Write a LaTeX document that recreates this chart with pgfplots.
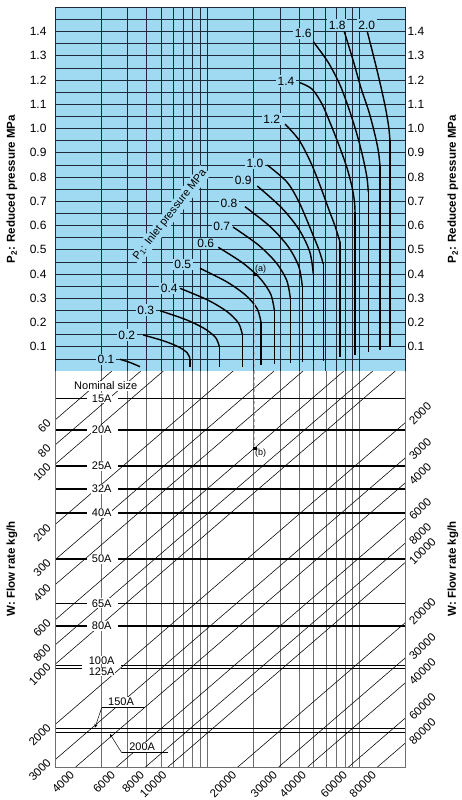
\documentclass[border=0pt]{standalone}
\usepackage{fontspec}
\setmainfont{Liberation Sans}
\usepackage{pgfplots}
\pgfplotsset{compat=1.18}
\definecolor{skyb}{RGB}{160,217,242}
\definecolor{gridc}{RGB}{28,42,58}
\definecolor{lgray}{RGB}{110,110,110}
\newcommand{\fs}{\fontsize{12}{14}\selectfont}
\newcommand{\fm}{\fontsize{11}{13}\selectfont}
\newcommand{\fw}{\fontsize{11.5}{13}\selectfont}
\pgfplotsset{
  curve/.style={black, line width=1.4pt, no markers},
  diag/.style={black, line width=0.55pt, no markers},
  nom/.style={black, line width=1.6pt, no markers},
}
\tikzset{
  lab/.style={font=\fs, fill=skyb, inner sep=1.5pt},
  nlab/.style={font=\fm, fill=white, inner sep=1pt},
  wl/.style={font=\fw, inner sep=0pt},
  wL/.style={wl, xshift=-6pt, yshift=-1pt, rotate=45, anchor=east},
  wR/.style={wl, xshift=6pt, rotate=45, anchor=west},
  wB/.style={wl, xshift=-2.5pt, yshift=-5pt, rotate=45, anchor=east},
}
\begin{document}
\begin{tikzpicture}
\path[use as bounding box] (0,0) rectangle (461pt,800pt);

% ---------------- lower part: flow rate / nominal size ----------------
\begin{axis}[
  at={(230pt,230.65pt)}, anchor=center,
  width=350pt, height=396.7pt, scale only axis,
  xmin=0, xmax=2.298, ymin=0, ymax=1.9835, y dir=reverse,
  xtick={0.30103,0.47712,0.60206,0.69897,0.77815,0.84510,0.90309,0.95424,1,1.30103,1.47712,1.60206,1.69897,1.77815,1.84510,1.90309,1.95424,2},
  xticklabels={}, ytick=\empty,
  xmajorgrids, major grid style={lgray, line width=0.6pt},
  tick style={draw=none},
  axis line style={draw=none},
  clip mode=individual,
]
% flow-rate lines W (kg/h)
\addplot[diag] coordinates {(0.3735,0) (0,0.2452)};      % 60
\addplot[diag] coordinates {(0.5637,0) (0,0.3701)};      % 80
\addplot[diag] coordinates {(0.7113,0) (0,0.467)};       % 100
\addplot[diag] coordinates {(1.1698,0) (0,0.768)};       % 200
\addplot[diag] coordinates {(1.4381,0) (0,0.9441)};      % 300
\addplot[diag] coordinates {(1.6285,0) (0,1.0691)};      % 400
\addplot[diag] coordinates {(1.8967,0) (0,1.2452)};      % 600
\addplot[diag] coordinates {(2.0870,0) (0,1.3701)};      % 800
\addplot[diag] coordinates {(2.2346,0) (0,1.467)};       % 1000
\addplot[diag] coordinates {(2.298,0.2593) (0,1.768)};   % 2000
\addplot[diag] coordinates {(2.298,0.4354) (0,1.9441)};  % 3000
\addplot[diag] coordinates {(2.298,0.5604) (0.1304,1.9835)}; % 4000
\addplot[diag] coordinates {(2.298,0.7365) (0.3986,1.9835)}; % 6000
\addplot[diag] coordinates {(2.298,0.8614) (0.5889,1.9835)}; % 8000
\addplot[diag] coordinates {(2.298,0.9583) (0.7365,1.9835)}; % 10000
\addplot[diag] coordinates {(2.298,1.2593) (1.1950,1.9835)}; % 20000
\addplot[diag] coordinates {(2.298,1.4354) (1.4632,1.9835)}; % 30000
\addplot[diag] coordinates {(2.298,1.5604) (1.6536,1.9835)}; % 40000
\addplot[diag] coordinates {(2.298,1.7365) (1.9219,1.9835)}; % 60000
\addplot[diag] coordinates {(2.298,1.8614) (2.1121,1.9835)}; % 80000
% nominal size lines
\addplot[nom] coordinates {(0,0.1365) (0.2121,0.1365)};
\addplot[nom] coordinates {(0.4156,0.1365) (2.298,0.1365)};
\addplot[nom] coordinates {(0,0.295) (0.2121,0.295)};
\addplot[nom] coordinates {(0.4156,0.295) (2.298,0.295)};
\addplot[nom] coordinates {(0,0.475) (0.2121,0.475)};
\addplot[nom] coordinates {(0.4156,0.475) (2.298,0.475)};
\addplot[nom] coordinates {(0,0.59) (0.2121,0.59)};
\addplot[nom] coordinates {(0.4156,0.59) (2.298,0.59)};
\addplot[nom] coordinates {(0,0.7085) (0.2121,0.7085)};
\addplot[nom] coordinates {(0.4156,0.7085) (2.298,0.7085)};
\addplot[nom] coordinates {(0,0.9385) (0.2121,0.9385)};
\addplot[nom] coordinates {(0.4156,0.9385) (2.298,0.9385)};
\addplot[nom] coordinates {(0,1.1615) (0.2121,1.1615)};
\addplot[nom] coordinates {(0.4156,1.1615) (2.298,1.1615)};
\addplot[nom] coordinates {(0,1.2735) (0.2121,1.2735)};
\addplot[nom] coordinates {(0.4156,1.2735) (2.298,1.2735)};
\addplot[nom, line width=1.3pt] coordinates {(0,1.4735) (0.1753,1.4735)};
\addplot[nom, line width=1.3pt] coordinates {(0.4314,1.4735) (2.298,1.4735)};
\addplot[nom, line width=1.3pt] coordinates {(0,1.4885) (0.1753,1.4885)};
\addplot[nom, line width=1.3pt] coordinates {(0.4314,1.4885) (2.298,1.4885)};
\addplot[nom, line width=1.3pt] coordinates {(0,1.7865) (2.298,1.7865)};
\addplot[nom, line width=1.3pt] coordinates {(0,1.8085) (2.298,1.8085)};
% example path (a)->(b)
\addplot[gray!60, dashed, line width=0.8pt] coordinates {(1.31,0) (1.31,0.385)};
\addplot[only marks, mark=square*, mark size=1.2pt, black] coordinates {(1.31,0.385)};
\node[font=\fontsize{9}{10}\selectfont, anchor=north west, inner sep=0.5pt] at (axis cs:1.31,0.385) {(b)};
% nominal size labels
\node[nlab] at (axis cs:0.3329,0.0735) {Nominal size};
\node[nlab] at (axis cs:0.3066,0.1365) {15A};
\node[nlab] at (axis cs:0.3066,0.295) {20A};
\node[nlab] at (axis cs:0.3066,0.475) {25A};
\node[nlab] at (axis cs:0.3066,0.59) {32A};
\node[nlab] at (axis cs:0.3066,0.7085) {40A};
\node[nlab] at (axis cs:0.3066,0.9385) {50A};
\node[nlab] at (axis cs:0.3066,1.1615) {65A};
\node[nlab] at (axis cs:0.3066,1.2735) {80A};
\node[nlab, inner sep=0.3pt] at (axis cs:0.3066,1.4465) {100A};
\node[nlab, inner sep=0.3pt] at (axis cs:0.3066,1.5035) {125A};
\node[nlab] at (axis cs:0.4334,1.6535) {150A};
\node[nlab] at (axis cs:0.5725,1.8785) {200A};
\addplot[black, line width=0.5pt] coordinates {(0.3066,1.6835) (0.5909,1.6835)};
\addplot[black, line width=0.5pt, -stealth] coordinates {(0.3066,1.6835) (0.2626,1.7825)};
\addplot[black, line width=0.5pt] coordinates {(0.4380,1.9085) (0.7439,1.9085)};
\addplot[black, line width=0.5pt, -stealth] coordinates {(0.4380,1.9085) (0.3611,1.815)};
% frame
\draw[lgray, line width=0.8pt] (axis cs:0,0) -- (axis cs:0,1.9835) -- (axis cs:2.298,1.9835) -- (axis cs:2.298,0);
% W labels, left edge
\node[wL] at (axis cs:0,0.2452) {60};
\node[wL] at (axis cs:0,0.3701) {80};
\node[wL] at (axis cs:0,0.467) {100};
\node[wL] at (axis cs:0,0.768) {200};
\node[wL] at (axis cs:0,0.9441) {300};
\node[wL] at (axis cs:0,1.0691) {400};
\node[wL] at (axis cs:0,1.2452) {600};
\node[wL] at (axis cs:0,1.3701) {800};
\node[wL] at (axis cs:0,1.467) {1000};
\node[wL] at (axis cs:0,1.768) {2000};
\node[wL] at (axis cs:0,1.9441) {3000};
% W labels, right edge
\node[wR] at (axis cs:2.298,0.2593) {2000};
\node[wR] at (axis cs:2.298,0.4354) {3000};
\node[wR] at (axis cs:2.298,0.5604) {4000};
\node[wR] at (axis cs:2.298,0.7365) {6000};
\node[wR] at (axis cs:2.298,0.8614) {8000};
\node[wR] at (axis cs:2.298,0.9583) {10000};
\node[wR] at (axis cs:2.298,1.2593) {20000};
\node[wR] at (axis cs:2.298,1.4354) {30000};
\node[wR] at (axis cs:2.298,1.5604) {40000};
\node[wR] at (axis cs:2.298,1.7365) {60000};
\node[wR] at (axis cs:2.298,1.8614) {80000};
% W labels, bottom edge
\node[wB] at (axis cs:0.1304,1.9835) {4000};
\node[wB] at (axis cs:0.3986,1.9835) {6000};
\node[wB] at (axis cs:0.5889,1.9835) {8000};
\node[wB] at (axis cs:0.7365,1.9835) {10000};
\node[wB] at (axis cs:1.1950,1.9835) {20000};
\node[wB] at (axis cs:1.4632,1.9835) {30000};
\node[wB] at (axis cs:1.6536,1.9835) {40000};
\node[wB] at (axis cs:1.9219,1.9835) {60000};
\node[wB] at (axis cs:2.1121,1.9835) {80000};
\end{axis}

% ---------------- upper part: pressures ----------------
\begin{axis}[
  at={(230pt,610.85pt)}, anchor=center,
  width=350pt, height=363.7pt, scale only axis,
  xmin=0, xmax=2.298, ymin=0, ymax=1.5,
  axis background/.style={fill=skyb},
  xtick={0.30103,0.47712,0.60206,0.69897,0.77815,0.84510,0.90309,0.95424,1,1.30103,1.47712,1.60206,1.69897,1.77815,1.84510,1.90309,1.95424,2},
  xticklabels={},
  ytick={0.1,0.2,0.3,0.4,0.5,0.6,0.7,0.8,0.9,1.0,1.1,1.2,1.3,1.4},
  yticklabels={0.1,0.2,0.3,0.4,0.5,0.6,0.7,0.8,0.9,1.0,1.1,1.2,1.3,1.4},
  minor ytick={0.05,0.15,0.25,0.35,0.45,0.55,0.65,0.75,0.85,0.95,1.05,1.15,1.25,1.35,1.45},
  grid=both,
  major grid style={gridc, line width=0.7pt},
  minor grid style={gridc, line width=0.7pt},
  tick style={draw=none},
  axis line style={draw=none},
  yticklabel style={font=\fs, xshift=-5pt},
  /pgf/number format/assume math mode=true,
  clip mode=individual,
]
% P1 curves (inlet pressure, MPa)
\addplot[curve, smooth] coordinates {(0.4268,0.0482) (0.4925,0.0351) (0.5581,0.0177)};
\addplot[curve, smooth] coordinates {(0.5798,0.1485) (0.7137,0.1241) (0.8096,0.0998) (0.8674,0.0755) (0.8864,0.0511)};
\addplot[curve] coordinates {(0.8864,0.0511) (0.8864,0.0177)};
\addplot[curve, smooth] coordinates {(0.6894,0.2487) (0.8595,0.2118) (0.9816,0.1748) (1.0545,0.1379) (1.0788,0.1010)};
\addplot[curve] coordinates {(1.0788,0.1010) (1.0788,0.0177)};
\addplot[curve, smooth] coordinates {(0.8207,0.3410) (1.0000,0.2936) (1.1274,0.2460) (1.2042,0.1984) (1.2298,0.1509)};
\addplot[curve] coordinates {(1.2298,0.1509) (1.2298,0.0177)};
\addplot[curve, smooth] coordinates {(0.9521,0.4235) (1.1274,0.3678) (1.2525,0.3122) (1.3277,0.2565) (1.3526,0.2008)};
\addplot[curve] coordinates {(1.3526,0.2008) (1.3526,0.0247)};
\addplot[curve, smooth] coordinates {(1.0722,0.5101) (1.2331,0.4454) (1.3480,0.3808) (1.4169,0.3162) (1.4399,0.2515)};
\addplot[curve] coordinates {(1.4399,0.2515) (1.4399,0.0289)};
\addplot[curve, smooth] coordinates {(1.1687,0.5938) (1.3336,0.5206) (1.4511,0.4474) (1.5213,0.3742) (1.5450,0.3010)};
\addplot[curve] coordinates {(1.5450,0.3010) (1.5450,0.0318)};
\addplot[curve, smooth] coordinates {(1.2475,0.6775) (1.4123,0.5959) (1.5299,0.5140) (1.6001,0.4322) (1.6238,0.3505)};
\addplot[curve] coordinates {(1.6238,0.3505) (1.6238,0.0359)};
\addplot[curve, smooth] coordinates {(1.3283,0.7629) (1.4892,0.6722) (1.6041,0.5816) (1.6730,0.4910) (1.6960,0.4004)};
\addplot[curve] coordinates {(1.6960,0.4004) (1.6960,0.0425)};
\addplot[curve, smooth] coordinates {(1.3940,0.8495) (1.5213,0.7806) (1.5955,0.7052) (1.6481,0.6309) (1.6940,0.5608) (1.7334,0.4990) (1.7617,0.4412)};
\addplot[curve] coordinates {(1.7617,0.4412) (1.7617,0.0425)};
\addplot[curve, smooth] coordinates {(1.5102,1.0186) (1.6021,0.9526) (1.6809,0.8577) (1.7466,0.7546) (1.7991,0.6639) (1.8385,0.5979) (1.8713,0.5320)};
\addplot[curve] coordinates {(1.8713,0.5320) (1.8713,0.0590)};
\addplot[curve, smooth] coordinates {(1.6087,1.1889) (1.6875,1.1629) (1.7531,1.1010) (1.8122,1.0144) (1.8713,0.9196) (1.9173,0.8371) (1.9501,0.7588) (1.9665,0.6969) (1.9698,0.6557)};
\addplot[curve] coordinates {(1.9698,0.6557) (1.9698,0.0660)};
\addplot[curve, smooth] coordinates {(1.6960,1.3579) (1.7925,1.2742) (1.8713,1.1794) (1.9370,1.0680) (1.9895,0.9608) (2.0256,0.8701) (2.0486,0.7959) (2.0571,0.7381)};
\addplot[curve] coordinates {(2.0571,0.7381) (2.0571,0.0796)};
\addplot[curve, smooth] coordinates {(1.8995,1.3992) (1.9567,1.2825) (2.0092,1.1670) (2.0617,1.0680) (2.1011,0.9732) (2.1241,0.9031) (2.1339,0.8454)};
\addplot[curve] coordinates {(2.1339,0.8454) (2.1339,0.0866)};
\addplot[curve, smooth] coordinates {(2.0506,1.3992) (2.0978,1.2825) (2.1372,1.1794) (2.1701,1.0845) (2.1911,1.0062) (2.1996,0.9485)};
\addplot[curve] coordinates {(2.1996,0.9485) (2.1996,0.1002)};
% example point (a)
\addplot[gray!60, dashed, line width=0.8pt] coordinates {(1.31,0.4) (1.31,0)};
\addplot[only marks, mark=square*, mark size=1.2pt, black] coordinates {(1.31,0.4)};
\node[font=\fontsize{9}{10}\selectfont, anchor=south west, inner sep=0.5pt] at (axis cs:1.31,0.4) {(a)};
% curve labels
\node[lab] at (axis cs:0.3349,0.0482) {0.1};
\node[lab] at (axis cs:0.4708,0.1485) {0.2};
\node[lab] at (axis cs:0.5955,0.2515) {0.3};
\node[lab] at (axis cs:0.7505,0.3410) {0.4};
\node[lab] at (axis cs:0.8385,0.4400) {0.5};
\node[lab] at (axis cs:0.9895,0.5266) {0.6};
\node[lab] at (axis cs:1.0946,0.5951) {0.7};
\node[lab] at (axis cs:1.1425,0.6928) {0.8};
\node[lab] at (axis cs:1.2364,0.7876) {0.9};
\node[lab] at (axis cs:1.3132,0.8565) {1.0};
\node[lab] at (axis cs:1.4228,1.0392) {1.2};
\node[lab] at (axis cs:1.5167,1.1959) {1.4};
\node[lab] at (axis cs:1.6303,1.3926) {1.6};
\node[lab] at (axis cs:1.8536,1.4268) {1.8};
\node[lab] at (axis cs:2.0466,1.4268) {2.0};
\node[font=\fm, fill=skyb, inner sep=2pt, rotate=52] at (axis cs:0.7551,0.6433) {P\textsubscript{1}: Inlet pressure MPa};
\draw[gridc, line width=0.8pt] (rel axis cs:0,0) -- (rel axis cs:0,1) -- (rel axis cs:1,1) -- (rel axis cs:1,0);
\end{axis}

% right-hand P2 tick labels
\begin{axis}[
  at={(230pt,610.85pt)}, anchor=center,
  width=350pt, height=363.7pt, scale only axis,
  xmin=0, xmax=2.298, ymin=0, ymax=1.5,
  hide x axis, axis y line*=right,
  y axis line style={draw=none},
  ytick={0.1,0.2,0.3,0.4,0.5,0.6,0.7,0.8,0.9,1.0,1.1,1.2,1.3,1.4},
  yticklabels={0.1,0.2,0.3,0.4,0.5,0.6,0.7,0.8,0.9,1.0,1.1,1.2,1.3,1.4},
  tick style={draw=none},
  yticklabel style={font=\fs, xshift=-1pt},
]
\end{axis}

% axis titles
\node[rotate=90, font=\bfseries\fontsize{11.5}{13}\selectfont] at (12pt,610.85pt) {P\textsubscript{2}: Reduced pressure MPa};
\node[rotate=90, font=\bfseries\fontsize{11.5}{13}\selectfont] at (453pt,610.85pt) {P\textsubscript{2}: Reduced pressure MPa};
\node[rotate=90, font=\bfseries\fontsize{11.5}{13}\selectfont] at (12pt,231pt) {W: Flow rate kg/h};
\node[rotate=90, font=\bfseries\fontsize{11.5}{13}\selectfont] at (453pt,231pt) {W: Flow rate kg/h};
\end{tikzpicture}
\end{document}
